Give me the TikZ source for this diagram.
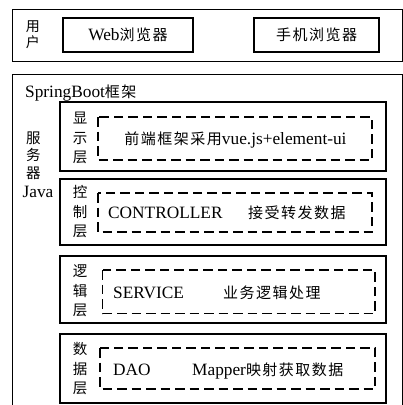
\documentclass[tikz,border=0pt]{standalone}
\usepackage{fontspec}
\setmainfont{Liberation Serif}
\newfontfamily\cjkfont{Noto Sans CJK SC}
\newfontfamily\cjkspaced[LetterSpace=10]{Noto Sans CJK SC}
\newcommand\zhtxt[1]{{\cjkspaced\fontsize{15}{20}\selectfont #1}}
\begin{document}
\begin{tikzpicture}[x=1pt,y=-1pt,
  outerbox/.style={draw, line width=1pt},
  solidbox/.style={draw, line width=1.4pt},
  dashbox/.style={draw, line width=1.4pt, dash pattern=on 9.5pt off 5pt},
  lat/.style={font=\fontsize{17.3}{20}\selectfont, inner sep=0pt},
  vlab/.style={font=\cjkfont\fontsize{14.5}{19.5}\selectfont, align=center, inner sep=0pt},
  slab/.style={font=\cjkfont\fontsize{14}{16}\selectfont, align=center, inner sep=0pt}]
\useasboundingbox (0,0) rectangle (403,405);
\clip (0,0) rectangle (403,405);
% user tier
\draw[outerbox] (12,9) rectangle (402.3,61);
\node[slab] (user) at (33,35) {用\\户};
\node[solidbox, lat, minimum width=130pt, minimum height=34pt] (web) at (128,35) {Web\zhtxt{浏览器}};
\node[solidbox, lat, minimum width=125pt, minimum height=34pt] (mobile) at (316.5,35) {\zhtxt{手机浏览器}};
% server tier
\draw[outerbox] (12,74) rectangle (402.3,430);
\node[lat, anchor=base west] (sb) at (25,97) {SpringBoot\zhtxt{框架}};
\node[font=\cjkfont\fontsize{14.5}{17.5}\selectfont, align=center, inner sep=0pt] (srv) at (33.5,155.5) {服\\务\\器};
\node[lat, anchor=base] (java) at (38,197) {Java};
% presentation layer
\draw[solidbox] (60,102) rectangle (386,171);
\node[vlab] (l1) at (80,138) {显\\示\\层};
\draw[dashbox] (98,117) rectangle (372,160);
\node[lat, anchor=base] (t1) at (235.5,144) {\zhtxt{前端框架采用}vue.js+element-ui};
% control layer
\draw[solidbox] (60,179) rectangle (386,245);
\node[vlab] (l2) at (80,212) {控\\制\\层};
\draw[dashbox] (98,193) rectangle (372,232);
\node[lat, anchor=base west] (t2a) at (108,218) {CONTROLLER};
\node[lat, anchor=base west] (t2b) at (248,218) {\zhtxt{接受转发数据}};
% logic layer
\draw[solidbox] (60,256) rectangle (386,323);
\node[vlab] (l3) at (80,291) {逻\\辑\\层};
\draw[dashbox] (102.5,270) rectangle (375,313.5);
\node[lat, anchor=base west] (t3a) at (113,298) {SERVICE};
\node[lat, anchor=base west] (t3b) at (223,298) {\zhtxt{业务逻辑处理}};
% data layer
\draw[solidbox] (60,334) rectangle (386,403);
\node[vlab] (l4) at (80,369) {数\\据\\层};
\draw[dashbox] (100,348) rectangle (375,389);
\node[lat, anchor=base west] (t4a) at (113,375) {DAO};
\node[lat, anchor=base west] (t4b) at (192,375) {Mapper\zhtxt{映射获取数据}};
\end{tikzpicture}
\end{document}
